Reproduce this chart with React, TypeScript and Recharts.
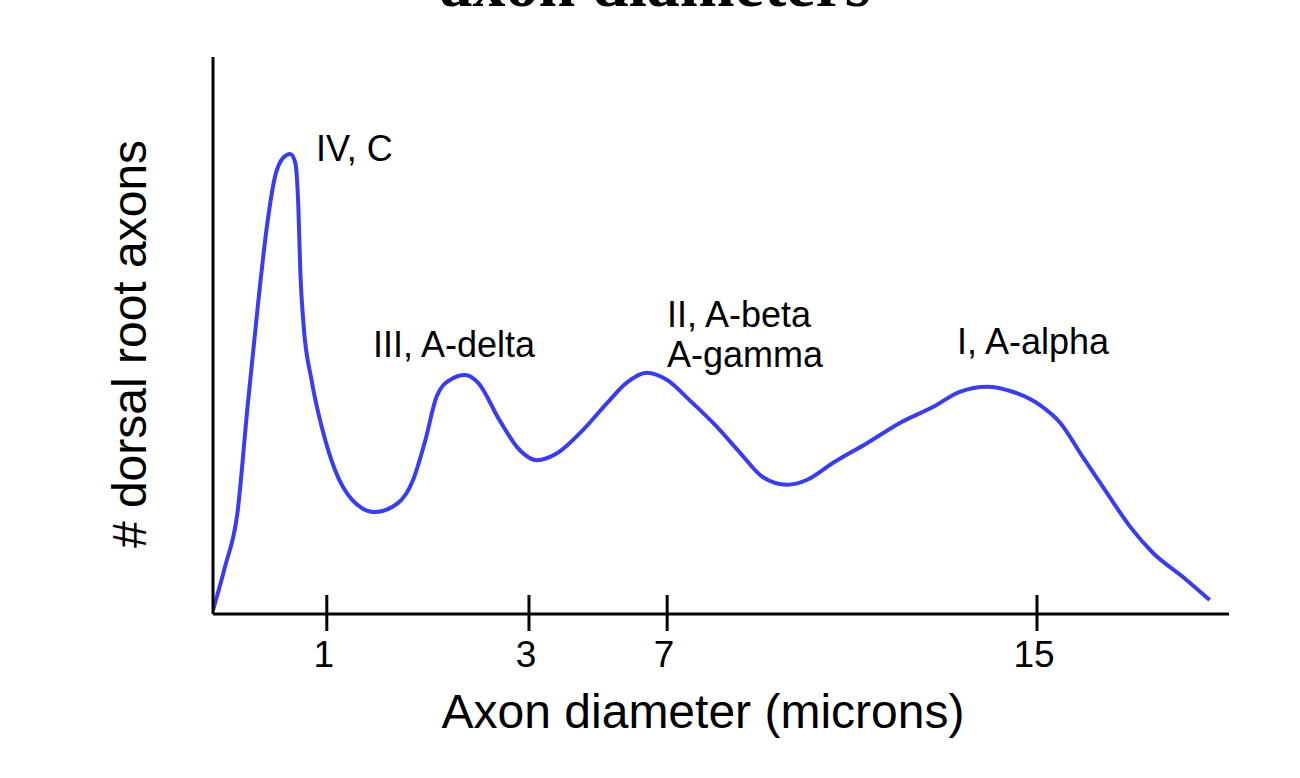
import { LineChart, Line, XAxis, YAxis } from 'recharts'

// position along the (schematic) diameter axis, 0-100
const axonPos = [
  0, 1.2, 2.4, 3.4, 4.4, 5.3, 6.1, 6.9, 7.6, 8.1, 8.4, 8.6, 8.9, 9.7, 10.7, 12.0, 13.7, 15.9, 18.2,
  19.7, 20.9, 22.0, 23.3, 24.8, 26.1, 28.2, 30.2, 31.9, 33.9, 36.4, 38.8, 40.7, 42.7, 44.7, 46.9,
  49.6, 51.9, 54.1, 56.5, 58.5, 61.0, 64.4, 67.6, 70.9, 73.5, 76.2, 78.7, 81.4, 83.4, 85.6, 88.0,
  90.3, 92.5, 95.5, 98.1,
]
// relative number of dorsal root axons
const axonCount = [
  0.7, 8.6, 18.1, 37.2, 55.1, 69.5, 78.5, 81.9, 82.6, 81.0, 73.1, 61.2, 52.2, 42.0, 33.6, 25.9, 20.5,
  18.3, 19.9, 24.1, 31.2, 39.0, 42.0, 42.9, 41.5, 34.8, 29.4, 27.6, 28.9, 33.0, 37.9, 41.5, 43.3,
  42.0, 38.4, 33.6, 28.9, 24.6, 23.2, 24.1, 27.1, 30.7, 34.3, 37.2, 39.9, 40.8, 39.9, 37.5, 34.3,
  28.2, 21.7, 15.6, 11.0, 6.6, 2.5,
]

const tickPositions = [11.2, 31.1, 44.7, 81.1]
const tickLabels = ['1', '3', '7', '15']

const data = axonPos.map((x, i) => ({ x, y: axonCount[i] }))

const sans = '"Liberation Sans", Arial, sans-serif'

function DiameterTick(props: any) {
  const { x, y, payload } = props
  const i = tickPositions.indexOf(payload.value)
  return (
    <g>
      <line x1={x} x2={x} y1={y - 19} y2={y + 17} stroke="#000" strokeWidth={3} />
      <text x={x - 3} y={y + 53} textAnchor="middle" fontFamily={sans} fontSize={37} fill="#000">
        {tickLabels[i]}
      </text>
    </g>
  )
}

export default function App() {
  return (
    <div style={{ position: 'absolute', left: 0, top: 0, width: 1300, height: 778, background: '#fff' }}>
      <LineChart width={1300} height={778} data={data} margin={{ top: 57, right: 71, bottom: 163, left: 212 }}>
        <XAxis
          dataKey="x"
          type="number"
          domain={[0, 100]}
          ticks={tickPositions}
          height={1}
          tickSize={0}
          tickMargin={0}
          tick={<DiameterTick />}
          axisLine={{ stroke: '#000', strokeWidth: 3 }}
          allowDataOverflow
        />
        <YAxis
          type="number"
          domain={[0, 100]}
          width={1}
          tick={false}
          tickLine={false}
          axisLine={{ stroke: '#000', strokeWidth: 3 }}
        />
        <Line
          dataKey="y"
          type="monotone"
          stroke="#3a3cf0"
          strokeWidth={4}
          dot={false}
          isAnimationActive={false}
        />
        <text x={655} y={6} textAnchor="middle" fontFamily='"Liberation Serif", serif' fontWeight="bold" fontSize={66} fill="#000">
          axon diameters
        </text>
        <text
          x={0}
          y={0}
          transform="translate(146 344) rotate(-90)"
          textAnchor="middle"
          fontFamily={sans}
          fontSize={48}
          fill="#000"
        >
          # dorsal root axons
        </text>
        <text x={703} y={728} textAnchor="middle" fontFamily={sans} fontSize={48} fill="#000">
          Axon diameter (microns)
        </text>
        <g fontFamily={sans} fontSize={36} fill="#000">
          <text x={316} y={161}>IV, C</text>
          <text x={373} y={357}>III, A-delta</text>
          <text x={667} y={327}>II, A-beta</text>
          <text x={667} y={367}>A-gamma</text>
          <text x={957} y={354}>I, A-alpha</text>
        </g>
      </LineChart>
    </div>
  )
}
